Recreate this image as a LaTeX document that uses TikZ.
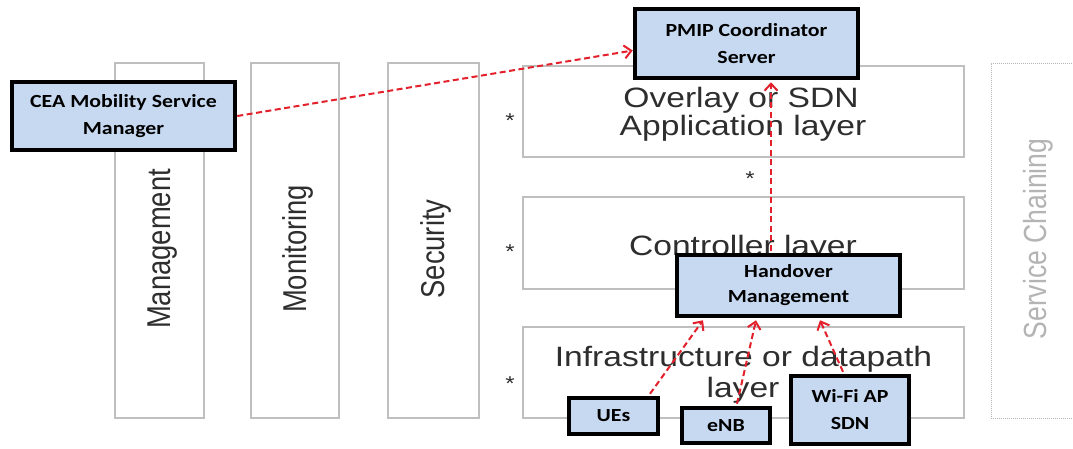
\documentclass[tikz,border=0pt]{standalone}
\usepackage{fontspec}
\setmainfont{Liberation Sans}
\newfontfamily\layerfont[FakeStretch=1.2]{Liberation Sans}
\newfontfamily\pillarfont[FakeStretch=0.83]{Liberation Sans}
\newfontfamily\boxfont[FakeStretch=1.18]{Carlito}
\usetikzlibrary{arrows.meta}
\definecolor{boxblue}{HTML}{C6D9F1}
\definecolor{flowred}{HTML}{E3202B}
\definecolor{framegray}{HTML}{BFBFBF}
\definecolor{labelgray}{HTML}{2E2E2E}
\definecolor{chaingray}{HTML}{B4B4B4}

\begin{document}
\begin{tikzpicture}[x=1pt,y=-1pt,
  frame/.style={draw=framegray, line width=1.5pt, inner sep=0pt},
  chainframe/.style={draw=chaingray, line width=1pt, dash pattern=on 1pt off 1pt, inner sep=0pt},
  layertext/.style={anchor=base, inner sep=0pt, text=labelgray,
    font=\layerfont\fontsize{28}{30}\selectfont},
  pillartext/.style={rotate=90, inner sep=0pt, text=labelgray,
    font=\pillarfont\fontsize{33}{36}\selectfont},
  startext/.style={anchor=base, inner sep=0pt, text=labelgray,
    font=\layerfont\fontsize{20}{22}\selectfont},
  component/.style={draw=black, line width=4.5pt, fill=boxblue, inner sep=0pt,
    align=center, font=\boxfont\bfseries\fontsize{18.5}{27}\selectfont},
  flow/.style={draw=flowred, line width=2pt, dash pattern=on 6pt off 3.5pt,
    -{Straight Barb[length=7pt,width=13pt]}}
]
\useasboundingbox (0,0) rectangle (1073,448);
\clip (0,0) rectangle (1073,448);
\fill[white] (0,0) rectangle (1073,448);

% vertical cross-cutting pillars
\node[frame, minimum width=89, minimum height=355] (mgmt) at (159.5,240.5) {};
\node[frame, minimum width=88, minimum height=355] (mon) at (295,240.5) {};
\node[frame, minimum width=91, minimum height=355] (sec) at (433.5,240.5) {};
\node[pillartext] (mgmtlabel) at (162.5,249) {Management};
\node[pillartext] (monlabel) at (297.5,249) {Monitoring};
\node[pillartext] (seclabel) at (436,249) {Security};

% service chaining column
\node[chainframe, minimum width=100, minimum height=355] (chain) at (1041,240.5) {};
\node[pillartext, text=chaingray, font=\pillarfont\fontsize{32}{34}\selectfont]
  (chainlabel) at (1038.5,239) {Service Chaining};

% horizontal SDN layers
\node[frame, minimum width=441, minimum height=91] (overlay) at (743.5,111.5) {};
\node[frame, minimum width=441, minimum height=92] (ctrl) at (743.5,243) {};
\node[frame, minimum width=441, minimum height=91] (infra) at (743.5,372.5) {};

\node[layertext] (ov1) at (741,107) {Overlay or SDN};
\node[layertext] (ov2) at (743,135) {Application layer};
\node[layertext] (ct1) at (743,255) {Controller layer};
\node[layertext] (in1) at (743.5,366) {Infrastructure or datapath};
\node[layertext] (in2) at (743,397) {layer};

% layer markers
\node[startext] (s1) at (510,127) {*};
\node[startext] (s2) at (510,258) {*};
\node[startext] (s3) at (510,390) {*};
\node[startext] (s4) at (750,185) {*};

% functional components
\node[component, minimum width=223, minimum height=68] (cea) at (123.5,116)
  {CEA Mobility Service\\Manager};
\node[component, minimum width=223, minimum height=69] (pmip) at (746.5,43.5)
  {PMIP Coordinator\\Server};
\node[component, minimum width=223, minimum height=61,
  font=\boxfont\bfseries\fontsize{18.5}{25}\selectfont] (ho) at (788.5,285.5)
  {Handover\\Management};
\node[component, minimum width=89, minimum height=36] (ues) at (613.5,416) {UEs};
\node[component, minimum width=88, minimum height=35] (enb) at (726,425.5) {eNB};
\node[component, minimum width=118, minimum height=68] (wifi) at (850,410)
  {Wi-Fi AP\\SDN};

% signalling flows
\draw[flow] (cea.east) -- ([yshift=-7pt]pmip.west);
\draw[flow] ([xshift=-17.5pt,yshift=2pt]ho.north) -- ([xshift=24.5pt,yshift=-2pt]pmip.south);
\draw[flow] ([xshift=36.5pt,yshift=2pt]ues.north) -- ([xshift=-85.5pt,yshift=-2pt]ho.south);
\draw[flow] ([xshift=11pt,yshift=2pt]enb.north) -- ([xshift=-32.5pt,yshift=-2pt]ho.south);
\draw[flow] ([xshift=-7pt,yshift=2pt]wifi.north) -- ([xshift=31.5pt,yshift=-2pt]ho.south);
\end{tikzpicture}
\end{document}
